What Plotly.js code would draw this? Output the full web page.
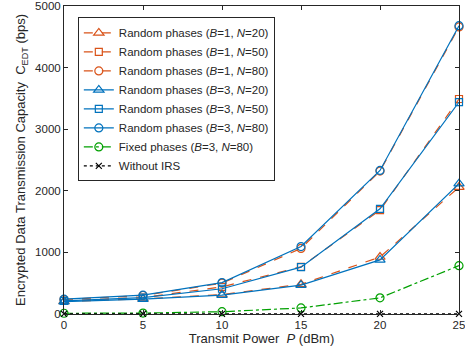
<!DOCTYPE html>
<html><head><meta charset="utf-8">
<script src="https://cdn.plot.ly/plotly-3.0.1.min.js"></script>
<style>body{margin:0;padding:0;background:#fff}#chart{width:465px;height:362px}</style>
</head><body><div id="chart"></div>
<script>
const powerDbm = [0, 5, 10, 15, 20, 25];
const randB1N20 = [205, 245, 315, 482, 925, 2060];
const randB1N50 = [215, 268, 440, 765, 1685, 3490];
const randB1N80 = [235, 300, 500, 1065, 2320, 4660];
const randB3N20 = [200, 240, 305, 468, 878, 2115];
const randB3N50 = [212, 265, 410, 760, 1707, 3440];
const randB3N80 = [240, 305, 510, 1095, 2330, 4680];
const fixedB3N80 = [12, 15, 37, 98, 262, 785];
const withoutIRS = [2, 2, 2, 2, 2, 2];
const names = [
  'Random phases (<i>B</i>=1, <i>N</i>=20)',
  'Random phases (<i>B</i>=1, <i>N</i>=50)',
  'Random phases (<i>B</i>=1, <i>N</i>=80)',
  'Random phases (<i>B</i>=3, <i>N</i>=20)',
  'Random phases (<i>B</i>=3, <i>N</i>=50)',
  'Random phases (<i>B</i>=3, <i>N</i>=80)',
  'Fixed phases (<i>B</i>=3, <i>N</i>=80)',
  'Without IRS'
];
const orange = '#D95319', blue = '#0072BD', green = '#00A000';
const FONT = 'Liberation Sans, Arial, sans-serif';
function tr(y, name, color, dash, symbol, size) {
  return {x: powerDbm, y: y, name: name, type: 'scatter', mode: 'lines+markers', cliponaxis: false,
    line: {color: color, width: 1.2, dash: dash},
    marker: {symbol: symbol, size: size || 8, color: color, line: {color: color, width: 1.2}}};
}
const data = [
  tr(randB1N20, names[0], orange, 'dash', 'triangle-up-open', 9),
  tr(randB1N50, names[1], orange, 'dash', 'square-open', 7),
  tr(randB1N80, names[2], orange, 'dash', 'circle-open', 8),
  tr(randB3N20, names[3], blue, 'solid', 'triangle-up-open', 9),
  tr(randB3N50, names[4], blue, 'solid', 'square-open', 7),
  tr(randB3N80, names[5], blue, 'solid', 'circle-open', 8),
  tr(fixedB3N80, names[6], green, 'dashdot', 'circle-open', 8),
  tr(withoutIRS, names[7], '#000000', 'dot', 'x-thin-open', 6)
];
const axisCommon = {showline: true, mirror: 'ticks', linecolor: '#262626', linewidth: 1,
  ticks: 'inside', ticklen: 4, tickcolor: '#262626', showgrid: false, zeroline: false,
  ticklabeloverflow: 'allow',
  tickfont: {family: FONT, size: 11.5, color: '#262626'}};
const layout = {
  width: 465, height: 362,
  margin: {l: 64, r: 6, t: 6, b: 48},
  paper_bgcolor: '#fff', plot_bgcolor: '#fff',
  font: {family: FONT, size: 12, color: '#262626'},
  xaxis: Object.assign({}, axisCommon, {range: [0, 25], tickvals: [0, 5, 10, 15, 20, 25],
    title: {text: 'Transmit Power&nbsp; <i>P</i> (dBm)', font: {size: 13, color: '#262626'}, standoff: 4}}),
  yaxis: Object.assign({}, axisCommon, {range: [0, 5000], tickvals: [0, 1000, 2000, 3000, 4000, 5000],
    title: {text: 'Encrypted Data Transmission Capacity&nbsp; C<sub>EDT</sub> (bps)', font: {size: 13, color: '#262626'}, standoff: 6}}),
  showlegend: true,
  legend: {x: 0.035, y: 0.963, xanchor: 'left', yanchor: 'top', bgcolor: '#fff',
    bordercolor: '#262626', borderwidth: 1, tracegroupgap: 0,
    font: {family: FONT, size: 11.5, color: '#262626'}, itemwidth: 30}
};
Plotly.newPlot('chart', data, layout, {displayModeBar: false, staticPlot: true});
</script></body></html>
